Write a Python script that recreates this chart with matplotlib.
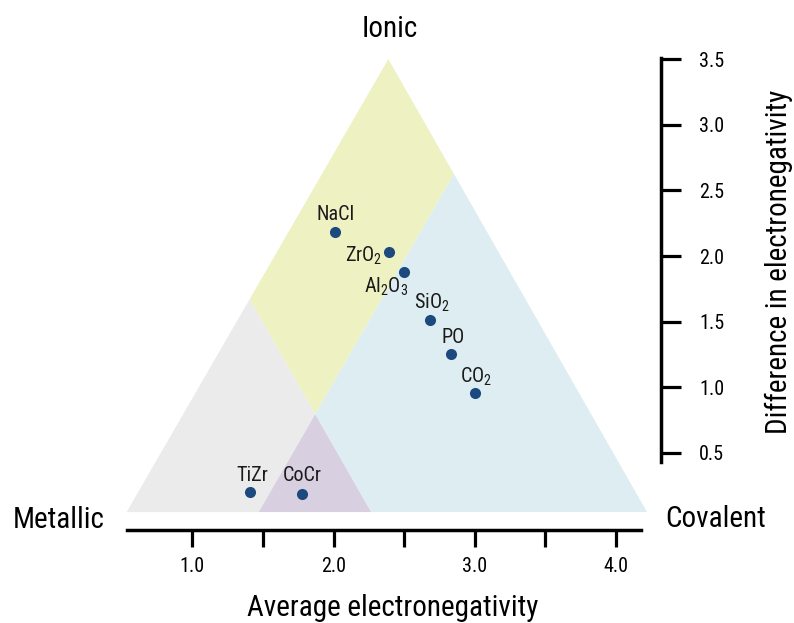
import numpy as np
import matplotlib
matplotlib.use('Agg')
from matplotlib import pyplot as plt
from matplotlib import font_manager

# prefer a condensed sans face, fall back to Liberation Sans (a bit smaller then)
installed = {f.name for f in font_manager.fontManager.ttflist}
face, shrink = 'Liberation Sans', 0.88
for name in ['Liberation Sans Narrow', 'Roboto Condensed', 'Open Sans Condensed']:
    if name in installed:
        face, shrink = name, 1.0
        break
plt.rcParams['font.family'] = [face, 'DejaVu Sans']
plt.rcParams['mathtext.fontset'] = 'custom'
plt.rcParams['mathtext.rm'] = face

# compounds on the bond-type triangle
labels = ['NaCl', r'ZrO$_\mathregular{2}$', r'Al$_\mathregular{2}$O$_\mathregular{3}$',
          r'SiO$_\mathregular{2}$', 'PO', r'CO$_\mathregular{2}$', 'TiZr', 'CoCr']
avg_en = [2.01, 2.39, 2.50, 2.68, 2.83, 3.00, 1.41, 1.78]
diff_en = [2.18, 2.03, 1.88, 1.51, 1.25, 0.96, 0.20, 0.19]

# label placement (pixels from the point, alignment)
label_dx = [1, -6, -18, 2, 2, 1, 2, 0]
label_dy = [12, -10, -21, 12, 11, 10, 11, 13]
label_ha = ['center', 'right', 'center', 'center', 'center', 'center', 'center', 'center']

# triangle corners and where the two inner boundaries hit the base
corner_metallic = np.array([0.535, 0.05])
corner_covalent = np.array([4.22, 0.05])
corner_ionic = np.array([2.388, 3.5])
base_split = [1.47, 2.266]

xticks_major = [1.0, 2.0, 3.0, 4.0]
xticks_minor = [1.5, 2.5, 3.5]
yticks = [0.5, 1.0, 1.5, 2.0, 2.5, 3.0, 3.5]

region_colors = {'ionic': '#eef2c2', 'metallic': '#ebebeb',
                 'covalent': '#ddedf2', 'semi': '#d8d0e1'}
dot_color = '#1c4a7e'

title_size = 21 * shrink
label_size = 14.5 * shrink
tick_size = 14.5 * shrink


def intersect(p, d, q, e):
    # p + t*d == q + s*e
    t, s = np.linalg.solve(np.column_stack([d, -e]), q - p)
    return p + t * d


left_dir = corner_ionic - corner_metallic
right_dir = corner_ionic - corner_covalent
qa = np.array([base_split[0], corner_metallic[1]])
qb = np.array([base_split[1], corner_metallic[1]])
pr = intersect(qa, left_dir, corner_covalent, right_dir)
pl = intersect(qb, right_dir, corner_metallic, left_dir)
mid = intersect(qa, left_dir, qb, right_dir)

fig = plt.figure(figsize=(7.94, 6.23), dpi=100)
ax = fig.add_axes([0, 0, 1, 1])
ax.set_xlim(-0.362, 5.261)
ax.set_ylim(-0.795, 3.95)

regions = {
    'ionic': [corner_ionic, pl, mid, pr],
    'metallic': [corner_metallic, pl, mid, qa],
    'covalent': [qb, mid, pr, corner_covalent],
    'semi': [qa, mid, qb],
}
for name, pts in regions.items():
    ax.add_patch(plt.Polygon(pts, closed=True, facecolor=region_colors[name],
                             edgecolor='none', zorder=1))

ax.scatter(avg_en, diff_en, s=64, color=dot_color, zorder=3, linewidths=0)
for lab, x, y, dx, dy, ha in zip(labels, avg_en, diff_en, label_dx, label_dy, label_ha):
    ax.annotate(lab, (x, y), xytext=(dx, dy), textcoords='offset pixels',
                ha=ha, va='baseline', fontsize=label_size, color='#1a1a1a', zorder=4)

# axes: bottom line for average EN, right line for difference
for side in ['top', 'left']:
    ax.spines[side].set_visible(False)
ax.spines['bottom'].set_position(('data', -0.09))
ax.spines['bottom'].set_bounds(0.536, 4.176)
ax.spines['bottom'].set_linewidth(2.5)
ax.spines['right'].set_position(('data', 4.319))
ax.spines['right'].set_bounds(0.434, 3.51)
ax.spines['right'].set_linewidth(2.5)

ax.set_xticks(xticks_major)
ax.set_xticklabels([f'{v:.1f}' for v in xticks_major])
ax.set_xticks(xticks_minor, minor=True)
ax.tick_params(axis='x', which='both', direction='out', length=12, width=2.3,
               labelsize=tick_size, pad=7, color='black')

ax.yaxis.tick_right()
ax.set_yticks(yticks)
ax.set_yticklabels([f'{v:.1f}' for v in yticks])
ax.tick_params(axis='y', which='major', direction='out', length=14.5, width=2.3,
               labelsize=tick_size, pad=13)
ax.tick_params(axis='y', which='minor', length=0)

ax.text(0.491, 0.9406, 'Ionic', transform=ax.transAxes, ha='center', va='baseline',
        fontsize=title_size)
ax.text(0.0164, 0.1525, 'Metallic', transform=ax.transAxes, ha='left', va='baseline',
        fontsize=title_size)
ax.text(0.8375, 0.154, 'Covalent', transform=ax.transAxes, ha='left', va='baseline',
        fontsize=title_size)
ax.text(0.495, 0.0112, 'Average electronegativity', transform=ax.transAxes,
        ha='center', va='baseline', fontsize=title_size)
ax.text(0.981, 0.58, 'Difference in electronegativity', transform=ax.transAxes,
        ha='center', va='center', rotation=90, fontsize=title_size)

fig.savefig('out.png', dpi=100)
